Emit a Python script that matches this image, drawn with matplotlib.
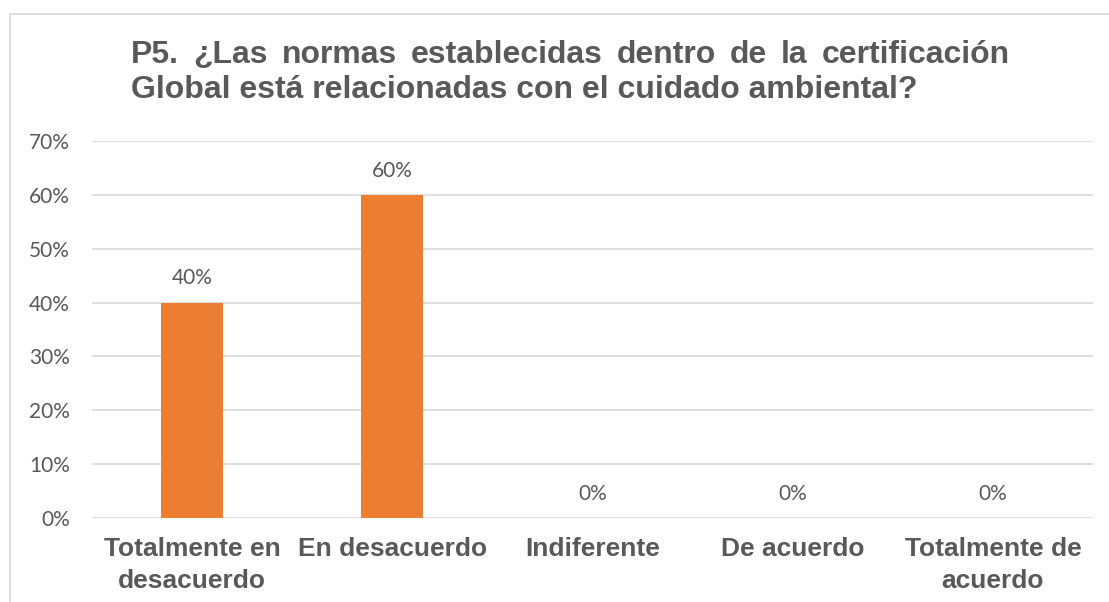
import matplotlib.pyplot as plt
from matplotlib.patches import Rectangle

categories = ["Totalmente en\ndesacuerdo", "En desacuerdo", "Indiferente",
              "De acuerdo", "Totalmente de\nacuerdo"]
values = [0.40, 0.60, 0.0, 0.0, 0.0]
title_lines = ["P5. ¿Las normas establecidas dentro de la certificación",
               "Global está relacionadas con el cuidado ambiental?"]

gray = "#595959"
orange = "#ED7D31"

W, H = 1109, 602
fig = plt.figure(figsize=(W / 100, H / 100), dpi=100)

# light frame of the chart area (runs off the right and bottom edges)
fig.patches.append(Rectangle((10 / W, -0.1), 1.2, 1 - 14 / H + 0.1,
                             transform=fig.transFigure, fill=False,
                             edgecolor="#D9D9D9", linewidth=1.2))

ax = fig.add_axes([92 / W, 1 - 518 / H, (1093 - 92) / W, (518 - 141) / H])

x = range(len(categories))
ax.bar(x, values, width=0.31, color=orange, zorder=3)
for i, v in enumerate(values):
    ax.text(i, v + 0.045, f"{v:.0%}", ha="center", va="center",
            fontsize=15, color=gray, family="Lato")

ax.set_xlim(-0.5, len(categories) - 0.5)
ax.set_ylim(0, 0.70)
ax.set_yticks([i / 10 for i in range(8)])
ax.set_yticklabels([f"{i * 10}%" for i in range(8)], family="Lato",
                   fontsize=15, color=gray)
ax.set_xticks(list(x))
ax.set_xticklabels(categories, family="Liberation Sans", fontweight="bold",
                   fontsize=19, color=gray, linespacing=1.38)
ax.tick_params(length=0)
ax.tick_params(axis="y", pad=16)
ax.tick_params(axis="x", pad=14)
ax.grid(axis="y", color="#D9D9D9", linewidth=1.2, zorder=0)
for s in ax.spines.values():
    s.set_visible(False)

# title: first line justified between x=131 and x=1010, second line left
renderer = fig.canvas.get_renderer()
tkw = dict(family="Liberation Sans", fontweight="bold", fontsize=23,
           color=gray, va="baseline", ha="left")
words = title_lines[0].split(" ")
arts = [fig.text(0, 1 - 63 / H, w, **tkw) for w in words]
widths = [a.get_window_extent(renderer).width for a in arts]
left, right = 131, 1010
gap = (right - left - sum(widths)) / (len(words) - 1)
pos = left
for a, w in zip(arts, widths):
    a.set_x(pos / W)
    pos += w + gap
fig.text(left / W, 1 - 98 / H, title_lines[1], **tkw)

fig.savefig("out.png", dpi=100)
